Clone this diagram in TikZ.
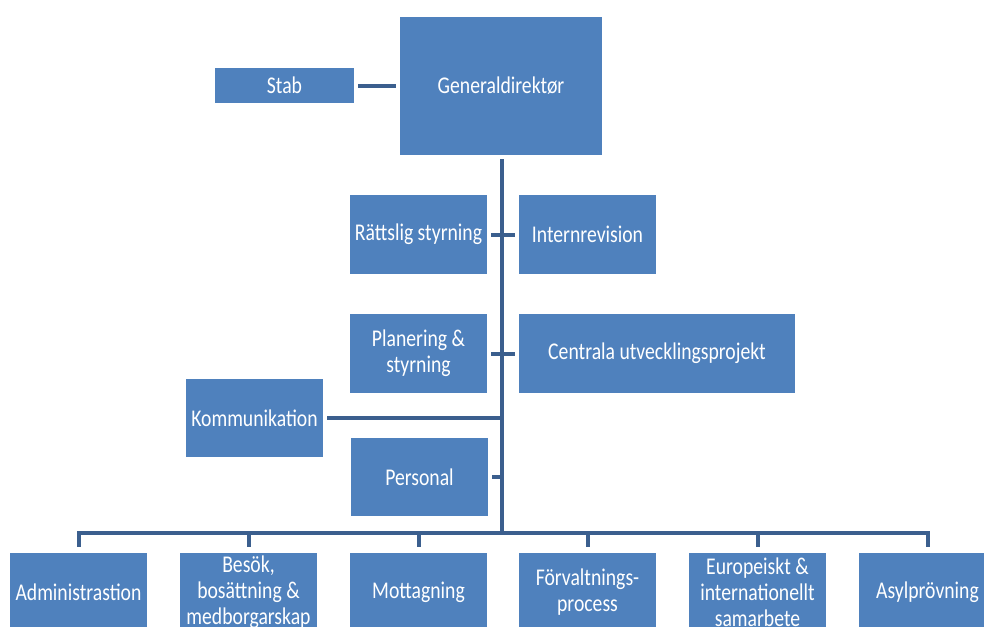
\documentclass[tikz,border=0pt]{standalone}
\usepackage{fontspec}
\setmainfont{Carlito}[FakeStretch=0.82]
\begin{document}
\begin{tikzpicture}[x=1pt,y=-1pt,
  unit/.style={fill=boxblue, text=white, inner sep=0pt, align=center,
    font=\fontsize{24}{26}\selectfont},
  wbox/.style={unit, minimum width=137pt, minimum height=79pt},
  link/.style={draw=linkblue, line width=4pt}]
\definecolor{boxblue}{HTML}{4F81BD}
\definecolor{linkblue}{HTML}{3B5F8E}
\useasboundingbox (0,0) rectangle (984,626);
\clip (0,0) rectangle (984,626);
\fill[white] (0,0) rectangle (984,626);

% top level
\node[unit, minimum width=202pt, minimum height=138pt] (gd) at (501,86) {Generaldirektør};
\node[unit, minimum width=139pt, minimum height=35pt] (stab) at (284.5,85.5) {Stab};

% staff units along the trunk
\node[wbox] (rs) at (418.5,234.5) {Rättslig styrning};
\node[wbox] (ir) at (587.5,234.5) {Internrevision};
\node[wbox] (pl) at (418.5,353.5) {Planering \&\\styrning};
\node[wbox, minimum width=276pt] (cu) at (657,353.5) {Centrala utvecklingsprojekt};
\node[wbox, minimum height=78pt] (ko) at (254.5,418) {Kommunikation};
\node[wbox, minimum height=78pt] (pe) at (419.5,477) {Personal};

% departments
\node[wbox] (ad) at (78.5,592.5) {Administrastion};
\node[wbox] (be) at (248.5,592.5) {Besök,\\bosättning \&\\medborgarskap};
\node[wbox] (mo) at (418.5,592.5) {Mottagning};
\node[wbox] (fo) at (587.5,592.5) {Förvaltnings-\\process};
\node[wbox] (eu) at (757.5,592.5) {Europeiskt \&\\internationellt\\samarbete};
\node[wbox] (as) at (927.5,592.5) {Asylprövning};

\coordinate (bus) at (502,533);

% connectors
\draw[link, shorten <=4pt, shorten >=4pt] (stab.east) -- (stab.east -| gd.west);
\draw[link, shorten <=4pt] (bus |- gd.south) -- (bus);
\draw[link, shorten <=4pt, shorten >=4pt] (rs.east) -- (ir.west);
\draw[link, shorten <=4pt, shorten >=4pt] (pl.east) -- (cu.west);
\draw[link, shorten <=4pt] (ko.east) -- (ko.east -| bus);
\draw[link, shorten <=4pt] (pe.east) -- (pe.east -| bus);
\foreach \d in {ad,be,mo,fo,eu,as}
  \draw[link, shorten >=6pt] (bus) -| (\d.north);
\end{tikzpicture}
\end{document}
